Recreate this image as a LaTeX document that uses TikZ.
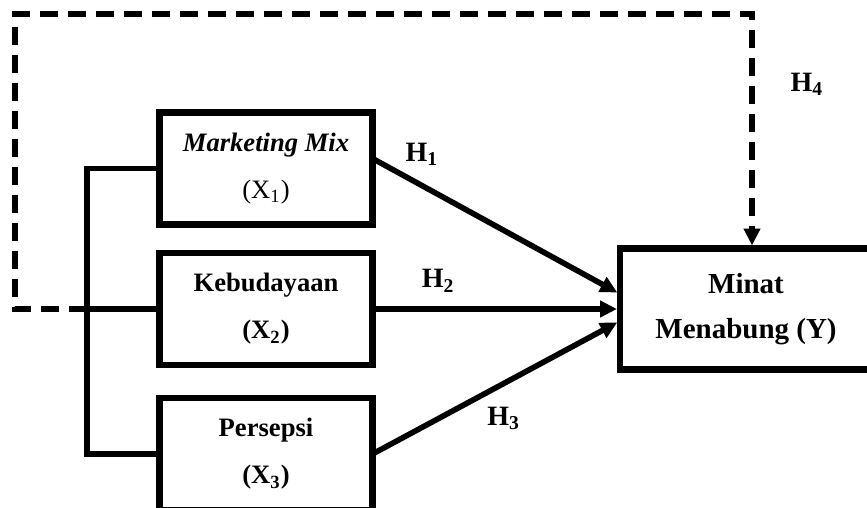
\documentclass[tikz,border=0pt]{standalone}
\usepackage{fontspec}
\setmainfont{Liberation Serif}
\usetikzlibrary{arrows.meta, positioning}

\begin{document}
\begin{tikzpicture}[
    x=0.5pt, y=-0.5pt,
    >={Triangle[length=8.5pt, width=8pt]},
    box/.style={draw, line width=3.25pt, minimum width=106.5pt, minimum height=56pt, inner sep=0pt, outer sep=0pt, align=center, font=\fontsize{13.3}{23.5}\selectfont\bfseries},
    link/.style={->, line width=2.8pt, shorten >=1.5pt},
    bus/.style={line width=2.8pt},
    dashlink/.style={->, line width=2.6pt, dash pattern=on 9pt off 5pt, shorten >=1.5pt},
    hlabel/.style={inner sep=0pt, font=\fontsize{14}{16}\selectfont\bfseries}
  ]
    \useasboundingbox (0,0) rectangle (867,508);

    \node[box] (mix) at (266,168.5) {\textit{Marketing Mix}\\\textmd{(X\textsubscript{1})}};
    \node[box, below=14.25pt of mix] (keb) {Kebudayaan\\(X\textsubscript{2})};
    \node[box, below=16.5pt of keb] (pers) {Persepsi\\(X\textsubscript{3})};
    \node[box, right=123.75pt of keb, minimum width=126pt, minimum height=60.5pt, font=\fontsize{14.5}{22.5}\selectfont\bfseries] (minat) {Minat\\Menabung (Y)};

    \coordinate (bus) at (87,309);
    \coordinate (dlo) at (15,309);
    \coordinate (dup) at (15,14);

    % bracket joining the three variables
    \draw[bus] (mix.west) -| (bus) |- (pers.west);
    \draw[bus] (keb.west) -- (bus);

    % hypotheses
    \draw[link] ([yshift=5pt]mix.east) -- node[hlabel, pos=0.2, above=8.5pt] (h1) {H\textsubscript{1}} ([yshift=7.5pt]minat.west);
    \draw[link] (keb.east) -- node[hlabel, pos=0.265, above=7pt] (h2) {H\textsubscript{2}} (minat.west);
    \draw[link] (pers.east) -- node[hlabel, pos=0.53, below=10.5pt] (h3) {H\textsubscript{3}} ([yshift=-6pt]minat.west);
    \draw[dashlink] (bus) -- (dlo) -- (dup) -| node[hlabel, pos=0.65, right=18pt] (h4) {H\textsubscript{4}} ([xshift=3pt]minat.north);
  \end{tikzpicture}
\end{document}
